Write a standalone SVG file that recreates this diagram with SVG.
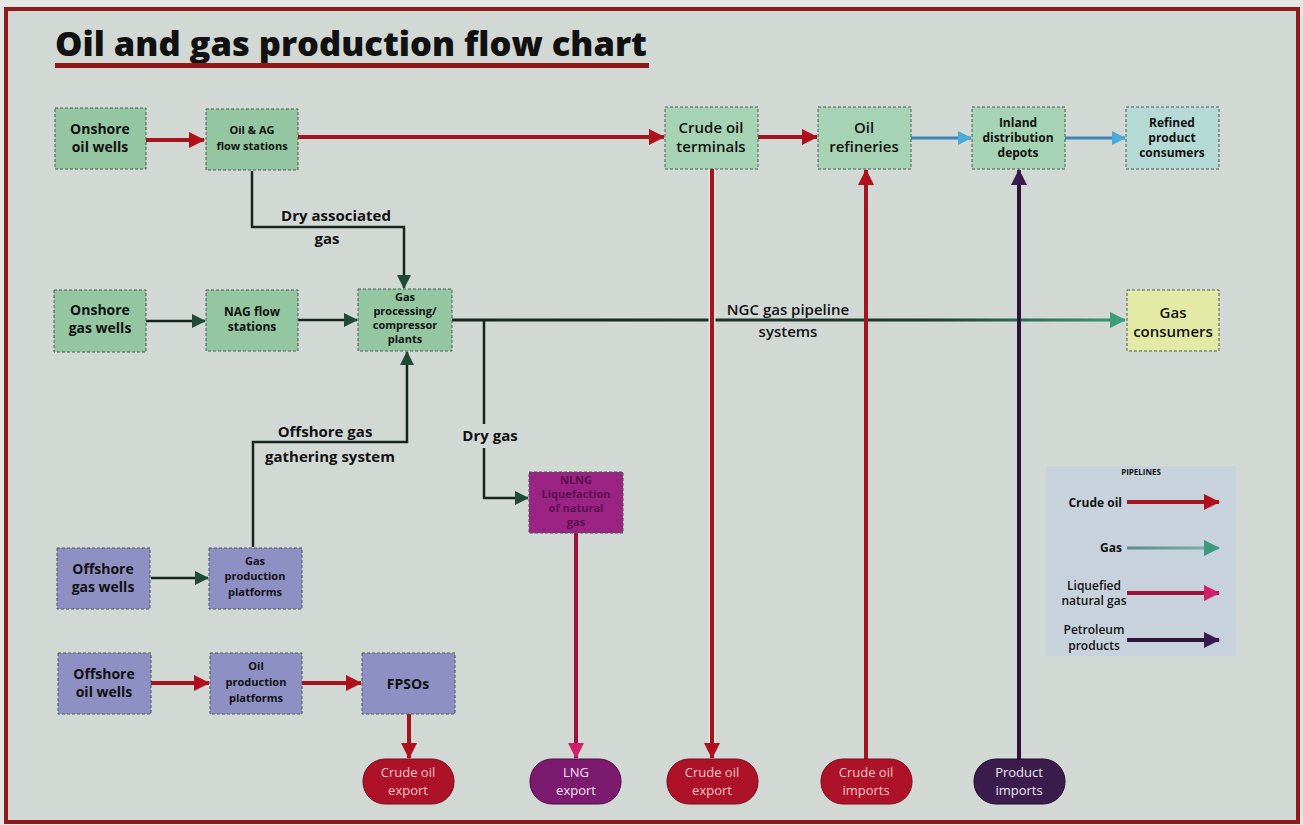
<svg xmlns="http://www.w3.org/2000/svg" width="1303" height="825" viewBox="0 0 1303 825">
<defs>
<style>
text{font-family:"Open Sans","Liberation Sans",sans-serif;text-anchor:middle;fill:#111}
.b{font-weight:700}
.sb{font-weight:600}
.box{stroke:#4a5a50;stroke-width:1;stroke-dasharray:3 2}
.g{fill:#93c6a1}
.gl{fill:#a6d3b3}
.bl{fill:#b5dad6}
.y{fill:#e3eaa6}
.p{fill:#8e8fc2}
.m{fill:#9a2383}
.red{stroke:#a3141f;stroke-width:4;fill:none}
.halo{stroke:#efe2d6;stroke-width:7;fill:none}
.blk{stroke:#17241d;stroke-width:2.5;fill:none}
.blu{stroke:#3a86b8;stroke-width:3;fill:none}
.lng{stroke:#a0103e;stroke-width:4;fill:none}
.pur{stroke:#2e1538;stroke-width:4;fill:none}
.pill text{font-size:13px;font-weight:400}
.lab{font-size:15px;font-weight:700}
</style>
<marker id="ar" viewBox="0 0 16 16" refX="15" refY="8" markerWidth="16" markerHeight="16" markerUnits="userSpaceOnUse" orient="auto"><path d="M0,0 L16,8 L0,16 z" fill="#b0101c"/></marker>
<marker id="ak" viewBox="0 0 14 14" refX="13" refY="7" markerWidth="14" markerHeight="14" markerUnits="userSpaceOnUse" orient="auto"><path d="M0,0 L14,7 L0,14 z" fill="#1f4a35"/></marker>
<marker id="at" viewBox="0 0 16 16" refX="15" refY="8" markerWidth="16" markerHeight="16" markerUnits="userSpaceOnUse" orient="auto"><path d="M0,0 L16,8 L0,16 z" fill="#3a9a7c"/></marker>
<marker id="ab" viewBox="0 0 14 14" refX="13" refY="7" markerWidth="14" markerHeight="14" markerUnits="userSpaceOnUse" orient="auto"><path d="M0,0 L14,7 L0,14 z" fill="#4aaad8"/></marker>
<marker id="am" viewBox="0 0 16 16" refX="15" refY="8" markerWidth="16" markerHeight="16" markerUnits="userSpaceOnUse" orient="auto"><path d="M0,0 L16,8 L0,16 z" fill="#d0206a"/></marker>
<marker id="ap" viewBox="0 0 16 16" refX="15" refY="8" markerWidth="16" markerHeight="16" markerUnits="userSpaceOnUse" orient="auto"><path d="M0,0 L16,8 L0,16 z" fill="#3a1a50"/></marker>
<linearGradient id="gg" gradientUnits="userSpaceOnUse" x1="451" y1="0" x2="1126" y2="0"><stop offset="0" stop-color="#17241d"/><stop offset="0.7" stop-color="#1f3a2c"/><stop offset="1" stop-color="#3a9a7c"/></linearGradient>
<linearGradient id="lg" gradientUnits="userSpaceOnUse" x1="1127" y1="0" x2="1220" y2="0"><stop offset="0" stop-color="#5a8a86"/><stop offset="1" stop-color="#7ab8a8"/></linearGradient>
</defs>
<rect x="0" y="0" width="1303" height="825" fill="#e4e8e4"/>
<rect x="6" y="9" width="1292" height="813" fill="#d2d9d5" stroke="#8e1a1c" stroke-width="4"/>
<g id="title">
<text x="55" y="56" style="font-size:34px;font-weight:800;text-anchor:start" textLength="592" lengthAdjust="spacingAndGlyphs">Oil and gas production flow chart</text>
<rect x="55" y="63" width="594" height="5" fill="#8e1a1c"/>
</g>
<g id="connectors">
<line class="red" x1="146" y1="140" x2="204" y2="140" marker-end="url(#ar)"/>
<line class="red" x1="298" y1="137" x2="664" y2="137" marker-end="url(#ar)"/>
<line class="red" x1="758" y1="137" x2="817" y2="137" marker-end="url(#ar)"/>
<line class="blu" x1="911" y1="138" x2="971" y2="138" marker-end="url(#ab)"/>
<line class="blu" x1="1065" y1="138" x2="1125" y2="138" marker-end="url(#ab)"/>
<polyline class="blk" points="252,171 252,227 404,227 404,288" marker-end="url(#ak)"/>
<line class="blk" x1="146" y1="321" x2="205" y2="321" marker-end="url(#ak)"/>
<line class="blk" x1="298" y1="320" x2="357" y2="320" marker-end="url(#ak)"/>
<line x1="452" y1="320" x2="1125" y2="320" stroke="url(#gg)" stroke-width="3" marker-end="url(#at)"/>
<polyline class="blk" points="484,320 484,424"/>
<polyline class="blk" points="484,448 484,498 528,498" marker-end="url(#ak)"/>
<polyline class="blk" points="253,547 253,442 407,442 407,352" marker-end="url(#ak)"/>
<line class="blk" x1="151" y1="578" x2="208" y2="578" marker-end="url(#ak)"/>
<line class="red" x1="151" y1="683" x2="209" y2="683" marker-end="url(#ar)"/>
<line class="red" x1="302" y1="683" x2="361" y2="683" marker-end="url(#ar)"/>
<line class="red" x1="409" y1="714" x2="409" y2="758" marker-end="url(#ar)"/>
<line class="lng" x1="576" y1="533" x2="576" y2="758" marker-end="url(#am)"/>
<line class="halo" x1="712" y1="169" x2="712" y2="745"/>
<line class="red" x1="712" y1="169" x2="712" y2="758" marker-end="url(#ar)"/>
<line class="red" x1="866" y1="759" x2="866" y2="170" marker-end="url(#ar)"/>
<line class="pur" x1="1019" y1="759" x2="1019" y2="170" marker-end="url(#ap)"/>
</g>
<g id="labels" class="lab">
<text x="336" y="221">Dry associated</text>
<text x="327" y="244">gas</text>
<text x="788" y="315" class="sb" style="font-size:15px">NGC gas pipeline</text>
<text x="788" y="337" class="sb" style="font-size:15px">systems</text>
<text x="490" y="441">Dry gas</text>
<text x="325" y="437">Offshore gas</text>
<text x="330" y="462">gathering system</text>
</g>
<g id="n-onshore-oil"><rect class="box g" x="55" y="108" width="91" height="61"/><text class="b" x="100" y="134" font-size="14">Onshore</text><text class="b" x="100" y="152" font-size="14">oil wells</text></g>
<g id="n-oilag"><rect class="box g" x="206" y="109" width="92" height="61"/><text class="b" x="252" y="134" font-size="11">Oil &amp; AG</text><text class="b" x="252" y="150" font-size="11">flow stations</text></g>
<g id="n-terminals"><rect class="box gl" x="665" y="107" width="93" height="62"/><text class="sb" x="711" y="133" font-size="15">Crude oil</text><text class="sb" x="711" y="152" font-size="15">terminals</text></g>
<g id="n-refineries"><rect class="box gl" x="818" y="107" width="93" height="62"/><text class="sb" x="864" y="133" font-size="15">Oil</text><text class="sb" x="864" y="152" font-size="15">refineries</text></g>
<g id="n-depots"><rect class="box gl" x="972" y="107" width="93" height="62"/><text class="b" x="1018" y="127" font-size="12">Inland</text><text class="b" x="1018" y="142" font-size="12">distribution</text><text class="b" x="1018" y="157" font-size="12">depots</text></g>
<g id="n-refined"><rect class="box bl" x="1126" y="107" width="93" height="62"/><text class="b" x="1172" y="127" font-size="12">Refined</text><text class="b" x="1172" y="142" font-size="12">product</text><text class="b" x="1172" y="157" font-size="12">consumers</text></g>
<g id="n-onshore-gas"><rect class="box g" x="54" y="290" width="92" height="62"/><text class="b" x="100" y="315" font-size="14">Onshore</text><text class="b" x="100" y="333" font-size="14">gas wells</text></g>
<g id="n-nag"><rect class="box g" x="206" y="290" width="92" height="61"/><text class="b" x="252" y="316" font-size="12">NAG flow</text><text class="b" x="252" y="331" font-size="12">stations</text></g>
<g id="n-gasproc"><rect class="box g" x="358" y="289" width="94" height="62"/><text class="b" x="405" y="301" font-size="11">Gas</text><text class="b" x="405" y="315" font-size="11">processing/</text><text class="b" x="405" y="329" font-size="11">compressor</text><text class="b" x="405" y="343" font-size="11">plants</text></g>
<g id="n-gascons"><rect class="box y" x="1127" y="290" width="92" height="61"/><text class="sb" x="1173" y="318" font-size="15">Gas</text><text class="sb" x="1173" y="337" font-size="15">consumers</text></g>
<g id="n-nlng"><rect class="box m" x="529" y="472" width="94" height="61"/><text class="b" x="576" y="484" font-size="11" style="fill:#5a1050">NLNG</text><text class="b" x="576" y="498" font-size="11" style="fill:#5a1050">Liquefaction</text><text class="b" x="576" y="512" font-size="11" style="fill:#5a1050">of natural</text><text class="b" x="576" y="526" font-size="11" style="fill:#5a1050">gas</text></g>
<g id="n-offshore-gas"><rect class="box p" x="57" y="548" width="93" height="61"/><text class="b" x="103" y="574" font-size="14">Offshore</text><text class="b" x="103" y="592" font-size="14">gas wells</text></g>
<g id="n-gasplat"><rect class="box p" x="209" y="548" width="93" height="61"/><text class="b" x="255" y="565" font-size="11">Gas</text><text class="b" x="255" y="580" font-size="11">production</text><text class="b" x="255" y="596" font-size="11">platforms</text></g>
<g id="n-offshore-oil"><rect class="box p" x="58" y="653" width="93" height="61"/><text class="b" x="104" y="679" font-size="14">Offshore</text><text class="b" x="104" y="697" font-size="14">oil wells</text></g>
<g id="n-oilplat"><rect class="box p" x="210" y="653" width="92" height="61"/><text class="b" x="256" y="670" font-size="11">Oil</text><text class="b" x="256" y="686" font-size="11">production</text><text class="b" x="256" y="702" font-size="11">platforms</text></g>
<g id="n-fpso"><rect class="box p" x="362" y="653" width="93" height="61"/><text class="b" x="408" y="689" font-size="14">FPSOs</text></g>
<g id="p-crude-export-1" class="pill"><rect x="363" y="759" width="91" height="45" rx="22" fill="#ad1228" stroke="#7a0c18"/><text x="408" y="777" style="fill:#f2c4c4">Crude oil</text><text x="408" y="795" style="fill:#f2c4c4">export</text></g>
<g id="p-lng-export" class="pill"><rect x="530" y="759" width="91" height="45" rx="22" fill="#7c1a70" stroke="#4a0c44"/><text x="576" y="777" style="fill:#f4e4f4">LNG</text><text x="576" y="795" style="fill:#f4e4f4">export</text></g>
<g id="p-crude-export-2" class="pill"><rect x="667" y="759" width="91" height="45" rx="22" fill="#ad1228" stroke="#7a0c18"/><text x="712" y="777" style="fill:#f2c4c4">Crude oil</text><text x="712" y="795" style="fill:#f2c4c4">export</text></g>
<g id="p-crude-imports" class="pill"><rect x="821" y="759" width="91" height="45" rx="22" fill="#ad1228" stroke="#7a0c18"/><text x="866" y="777" style="fill:#f2c4c4">Crude oil</text><text x="866" y="795" style="fill:#f2c4c4">imports</text></g>
<g id="p-product-imports" class="pill"><rect x="974" y="759" width="91" height="45" rx="22" fill="#3c1c4c" stroke="#1e0a28"/><text x="1019" y="777" style="fill:#f0e8f4">Product</text><text x="1019" y="795" style="fill:#f0e8f4">imports</text></g>
<g id="legend">
<rect x="1046" y="466" width="190" height="190" fill="#c8d2dc"/>
<text class="b" x="1141" y="475" font-size="8">PIPELINES</text>
<text class="b" x="1122" y="507" font-size="12" style="text-anchor:end">Crude oil</text>
<line class="red" x1="1127" y1="502" x2="1219" y2="502" marker-end="url(#ar)"/>
<text class="b" x="1122" y="552" font-size="12" style="text-anchor:end">Gas</text>
<line x1="1127" y1="548" x2="1219" y2="548" stroke="url(#lg)" stroke-width="3" marker-end="url(#at)"/>
<text class="sb" x="1094" y="590" font-size="12">Liquefied</text>
<text class="sb" x="1094" y="605" font-size="12">natural gas</text>
<line class="lng" x1="1127" y1="593" x2="1219" y2="593" stroke="#c01868" marker-end="url(#am)"/>
<text class="sb" x="1094" y="634" font-size="12">Petroleum</text>
<text class="sb" x="1094" y="650" font-size="12">products</text>
<line class="pur" x1="1127" y1="640" x2="1219" y2="640" marker-end="url(#ap)"/>
</g>
</svg>
